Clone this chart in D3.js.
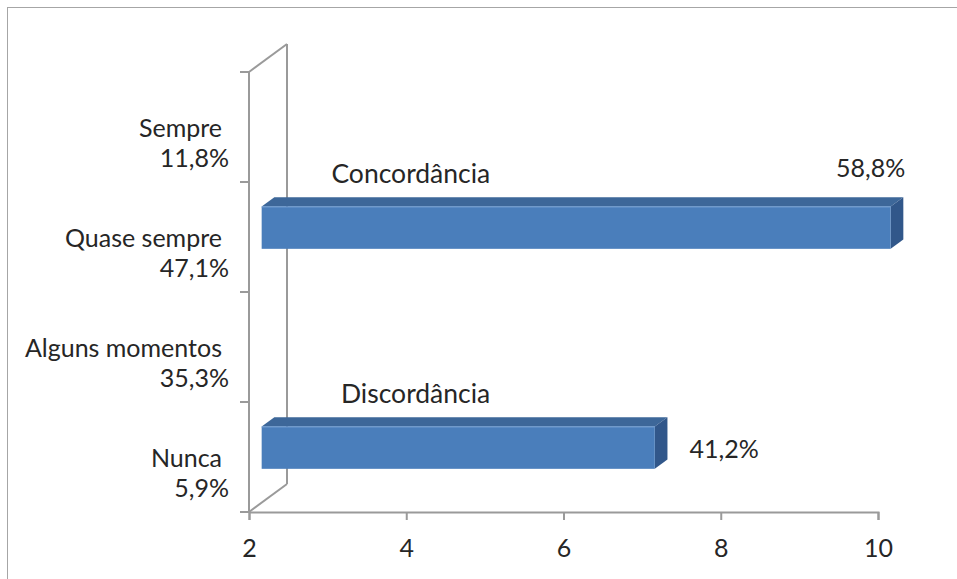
<!DOCTYPE html>
<html>
<head>
<meta charset="utf-8">
<script src="https://cdn.jsdelivr.net/npm/d3@7"></script>
<style>
  html, body { margin: 0; padding: 0; background: #fff; }
  svg { display: block; }
  text { font-family: Lato, "Open Sans", sans-serif; fill: #262626; }
</style>
</head>
<body>
<svg id="chart" width="957" height="579"></svg>
<script>
// Response categories on the vertical axis, with their share of answers
const categories = ["Sempre", "Quase sempre", "Alguns momentos", "Nunca"];
const categoryShares = ["11,8%", "47,1%", "35,3%", "5,9%"];

// Grouped bars: agreement vs disagreement
const seriesNames = ["Concordância", "Discordância"];
const seriesCategory = ["Quase sempre", "Nunca"];
const seriesValues = [10, 7];
const seriesShares = ["58,8%", "41,2%"];

// Horizontal axis ticks
const xTicks = [2, 4, 6, 8, 10];

const svg = d3.select("#chart");
const W = 957, H = 579;

// Outer frame of the chart area
svg.append("rect")
  .attr("x", 7.5).attr("y", 7.5)
  .attr("width", W + 20).attr("height", H + 20)
  .attr("fill", "none").attr("stroke", "#a6a6a6").attr("stroke-width", 1);

// Front plane of the 3D plot
const plot = { left: 249, right: 878, top: 72, bottom: 512 };
// Offset of the full depth (back wall) relative to the front plane
const depth = { dx: 38, dy: -28 };

const x = d3.scaleLinear().domain([2, 10]).range([plot.left, plot.right]);
const y = d3.scaleBand().domain(categories).range([plot.top, plot.bottom]).paddingInner(0).paddingOuter(0);

const axisColor = "#9a9a9a";

// Walls: left side panel edges and floor diagonal
const walls = svg.append("g").attr("fill", "none").attr("stroke", axisColor).attr("stroke-width", 2);
walls.append("line").attr("x1", plot.left).attr("y1", plot.top).attr("x2", plot.left).attr("y2", plot.bottom);
walls.append("line").attr("x1", plot.left + depth.dx).attr("y1", plot.top + depth.dy)
  .attr("x2", plot.left + depth.dx).attr("y2", plot.bottom + depth.dy);
walls.append("line").attr("x1", plot.left).attr("y1", plot.top)
  .attr("x2", plot.left + depth.dx).attr("y2", plot.top + depth.dy);
walls.append("line").attr("x1", plot.left).attr("y1", plot.bottom)
  .attr("x2", plot.left + depth.dx).attr("y2", plot.bottom + depth.dy);

// Category axis ticks at band boundaries
const yBounds = categories.map(c => y(c)).concat([plot.bottom]);
svg.append("g").selectAll("line").data(yBounds).join("line")
  .attr("x1", plot.left - 9).attr("x2", plot.left)
  .attr("y1", d => d).attr("y2", d => d)
  .attr("stroke", axisColor).attr("stroke-width", 2);

// Category labels (name + share)
const catG = svg.append("g").attr("font-size", 25);
categories.forEach((c, i) => {
  const cy = y(c) + y.bandwidth() / 2;
  catG.append("text").attr("x", 222).attr("y", cy + 10).attr("text-anchor", "end").text(c);
  catG.append("text").attr("x", 229).attr("y", cy + 40).attr("text-anchor", "end").text(categoryShares[i]);
});

// Value axis
const xAxis = d3.axisBottom(x).tickValues(xTicks).tickSize(8).tickPadding(14).tickFormat(d3.format("d"));
const xg = svg.append("g").attr("transform", `translate(0,${plot.bottom})`).call(xAxis);
xg.select(".domain").attr("stroke", axisColor).attr("stroke-width", 2);
xg.selectAll(".tick line").attr("stroke", axisColor).attr("stroke-width", 2);
xg.selectAll(".tick text").attr("font-size", 25).attr("font-family", "Lato, sans-serif").attr("fill", "#262626").attr("dy", "0.9em");

// 3D bars: front face at 1/3 depth, back at 2/3 depth
const barH = y.bandwidth() / 2.6;
const f0 = { dx: depth.dx / 3, dy: depth.dy / 3 };
const f1 = { dx: depth.dx * 2 / 3, dy: depth.dy * 2 / 3 };

const bars = svg.append("g");
seriesValues.forEach((v, i) => {
  const cy = y(seriesCategory[i]) + y.bandwidth() / 2;
  const x0 = x(2) + f0.dx, x1 = x(v) + f0.dx;
  const yt = cy - barH / 2 + f0.dy, yb = cy + barH / 2 + f0.dy;
  const ddx = f1.dx - f0.dx, ddy = f1.dy - f0.dy;
  const g = bars.append("g");
  // top face
  g.append("path")
    .attr("d", `M${x0},${yt} L${x0 + ddx},${yt + ddy} L${x1 + ddx},${yt + ddy} L${x1},${yt} Z`)
    .attr("fill", "#3d6799");
  // end face
  g.append("path")
    .attr("d", `M${x1},${yt} L${x1 + ddx},${yt + ddy} L${x1 + ddx},${yb + ddy} L${x1},${yb} Z`)
    .attr("fill", "#31578a");
  // front face
  g.append("rect")
    .attr("x", x0).attr("y", yt).attr("width", x1 - x0).attr("height", yb - yt)
    .attr("fill", "#4a7ebb");
  // highlight along the top edge
  g.append("line").attr("x1", x0).attr("x2", x1).attr("y1", yt + 0.5).attr("y2", yt + 0.5)
    .attr("stroke", "#6f9ad0").attr("stroke-width", 1);

  // series name above the bar, right-aligned to a common edge
  svg.append("text").attr("font-size", 26.5)
    .attr("x", x(4) + 84).attr("y", cy - 54).attr("text-anchor", "end")
    .text(seriesNames[i]);

  // share label: above the bar end when it would leave the plot, else to its right
  const outer = x1 + ddx;
  const lbl = svg.append("text").attr("font-size", 25).text(seriesShares[i]);
  if (outer > plot.right) {
    lbl.attr("x", outer + 2).attr("y", yt + ddy - 20).attr("text-anchor", "end");
  } else {
    lbl.attr("x", outer + 22).attr("y", cy + 1).attr("text-anchor", "start");
  }
});
</script>
</body>
</html>
